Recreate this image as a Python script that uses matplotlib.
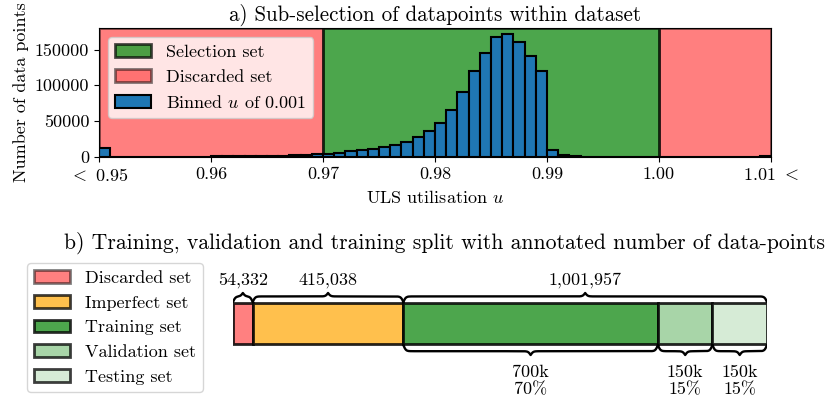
import numpy as np
import matplotlib
matplotlib.use("Agg")
import matplotlib.pyplot as plt
from matplotlib.patches import Patch

plt.rcParams['font.family'] = 'serif'
plt.rcParams['font.serif'] = ['cmr10']
plt.rcParams['mathtext.fontset'] = 'cm'
plt.rcParams['axes.formatter.use_mathtext'] = True
plt.rcParams['axes.unicode_minus'] = False
plt.rcParams['font.size'] = 13

# ---------------- data ----------------
bin_start = 0.950
bin_width = 0.001
counts = [
    13000, 300, 300, 350, 400, 400, 450, 500, 550, 600,          # 0.950-0.959
    700, 800, 900, 1000, 1200, 1500, 1800, 2200, 2800, 3800,     # 0.960-0.969
    4600, 6000, 7900, 9700, 11600, 14400, 16700, 21300, 27300, 36100,   # 0.970-0.979
    48100, 65300, 90700, 120000, 145000, 167000, 172000, 160000, 141000, 120000,  # 0.980-0.989
    10000, 3000, 1000, 500, 300, 200, 150, 100, 100, 100,        # 0.990-0.999
    80, 80, 60, 60, 50, 50, 40, 40, 40, 1500,                    # 1.000-1.009
]
x_ticks = [0.95, 0.96, 0.97, 0.98, 0.99, 1.00, 1.01]
x_ticklabels = [r'$<$ 0.95', '0.96', '0.97', '0.98', '0.99', '1.00', r'1.01 $<$']
y_ticks = [0, 50000, 100000, 150000]
sel_lo, sel_hi = 0.97, 1.00

discarded_n = 54332
imperfect_n = 415038
usable_n = 1001957
split_names = ['Training set', 'Validation set', 'Testing set']
split_pct = [70, 15, 15]
split_k = ['700k', '150k', '150k']

# ---------------- figure ----------------
W, H = 830, 409
fig = plt.figure(figsize=(W / 100, H / 100), dpi=100)

# ---- top: histogram ----
ax = fig.add_axes([99 / W, 1 - 157 / H, (771 - 99) / W, (157 - 28) / H])
ax.axvspan(x_ticks[0], sel_lo, facecolor='red', edgecolor='black', lw=2, alpha=0.5, zorder=0)
ax.axvspan(sel_hi, x_ticks[-1], facecolor='red', edgecolor='black', lw=2, alpha=0.5, zorder=0)
ax.axvspan(sel_lo, sel_hi, facecolor='green', edgecolor='black', lw=2, alpha=0.7, zorder=0)
lefts = bin_start + bin_width * np.arange(len(counts))
ax.bar(lefts, counts, width=bin_width, align='edge', color='tab:blue',
       edgecolor='black', lw=1.5, zorder=2)
ax.set_xlim(x_ticks[0], x_ticks[-1])
ax.set_ylim(0, 180000)
ax.set_xticks(x_ticks)
ax.set_xticklabels(x_ticklabels)
ax.set_yticks(y_ticks)
ax.set_yticklabels([str(v) for v in y_ticks])
ax.set_xlabel(r'ULS utilisation $u$')
ax.set_ylabel('Number of data points')
ax.set_title('a) Sub-selection of datapoints within dataset', pad=5, fontsize=15.1)
handles = [
    Patch(facecolor='green', edgecolor='black', lw=2, alpha=0.7, label='Selection set'),
    Patch(facecolor='red', edgecolor='black', lw=2, alpha=0.5, label='Discarded set'),
    Patch(facecolor='tab:blue', edgecolor='black', lw=1.5, label=r'Binned $u$ of 0.001'),
]
ax.legend(handles=handles, loc='upper left')

# ---- bottom: split bar ----
bx = fig.add_axes([233 / W, 0.0, (767 - 233) / W, 1 - 262 / H])
total = discarded_n + imperfect_n + usable_n
bx.set_xlim(0, total)
bx.set_ylim(0, H - 262)
bx.axis('off')

px = total / (767 - 233)  # data units per pixel


def brace(x1, x2, ybase, h, beta_px=0.8, plateau=0.62):
    n = 601
    beta = beta_px / px
    x = np.linspace(x1, x2, n)
    xh = x[:n // 2 + 1]
    s1 = 1 / (1 + np.exp(-beta * (xh - xh[0])))
    s2 = 1 / (1 + np.exp(-beta * (xh - xh[-1])))
    yh = plateau * (2 * s1 - 1) + (1 - plateau) * (2 * s2)
    y = np.concatenate((yh, yh[-2::-1]))
    bx.plot(x, ybase + h * y, color='black', lw=1.7, solid_capstyle='round', zorder=3)


bar_y0, bar_h = H - 344, 41
seg_faces = [(1.0, 0.5, 0.5), (1.0, 0.753, 0.3), (0.3, 0.651, 0.3),
             (0.66, 0.835, 0.66), (0.84, 0.92, 0.84)]
seg_edge_alpha = [0.5, 0.75, 0.8, 0.75, 0.75]
seg_names = ['Discarded set', 'Imperfect set'] + split_names
seg_widths = [discarded_n, imperfect_n] + [usable_n * p / 100 for p in split_pct]
left = 0
seg_edges = []
for fc, w in zip(seg_faces, seg_widths):
    bx.barh(bar_y0, w, height=bar_h, left=left, align='edge', facecolor=fc,
            edgecolor=(0, 0, 0, 0.85), lw=2, zorder=2)
    seg_edges.append((left, left + w))
    left += w

# top braces
top_groups = [(0, discarded_n, discarded_n),
              (discarded_n, discarded_n + imperfect_n, imperfect_n),
              (discarded_n + imperfect_n, total, usable_n)]
for a, b, n in top_groups:
    brace(a, b, H - 302, 9)
    bx.text((a + b) / 2, H - 280, f'{n:,}', ha='center', va='center')

# bottom braces
for (a, b), k, p in zip(seg_edges[2:], split_k, split_pct):
    brace(a, b, H - 345, -10)
    bx.text((a + b) / 2, H - 381, f'{k}\n{p}%', ha='center', va='center', linespacing=1.1)

fig.text(64 / W, 1 - 243 / H,
         'b) Training, validation and training split with annotated number of data-points',
         ha='left', va='center', fontsize=15.6)

leg_handles = [Patch(facecolor=fc, edgecolor=(0, 0, 0, ea), lw=2, label=nm)
               for fc, ea, nm in zip(seg_faces, seg_edge_alpha, seg_names)]
fig.legend(handles=leg_handles, loc='upper left', bbox_to_anchor=(27 / W, 1 - 263 / H),
           borderaxespad=0)

fig.savefig('out.png', dpi=100)
